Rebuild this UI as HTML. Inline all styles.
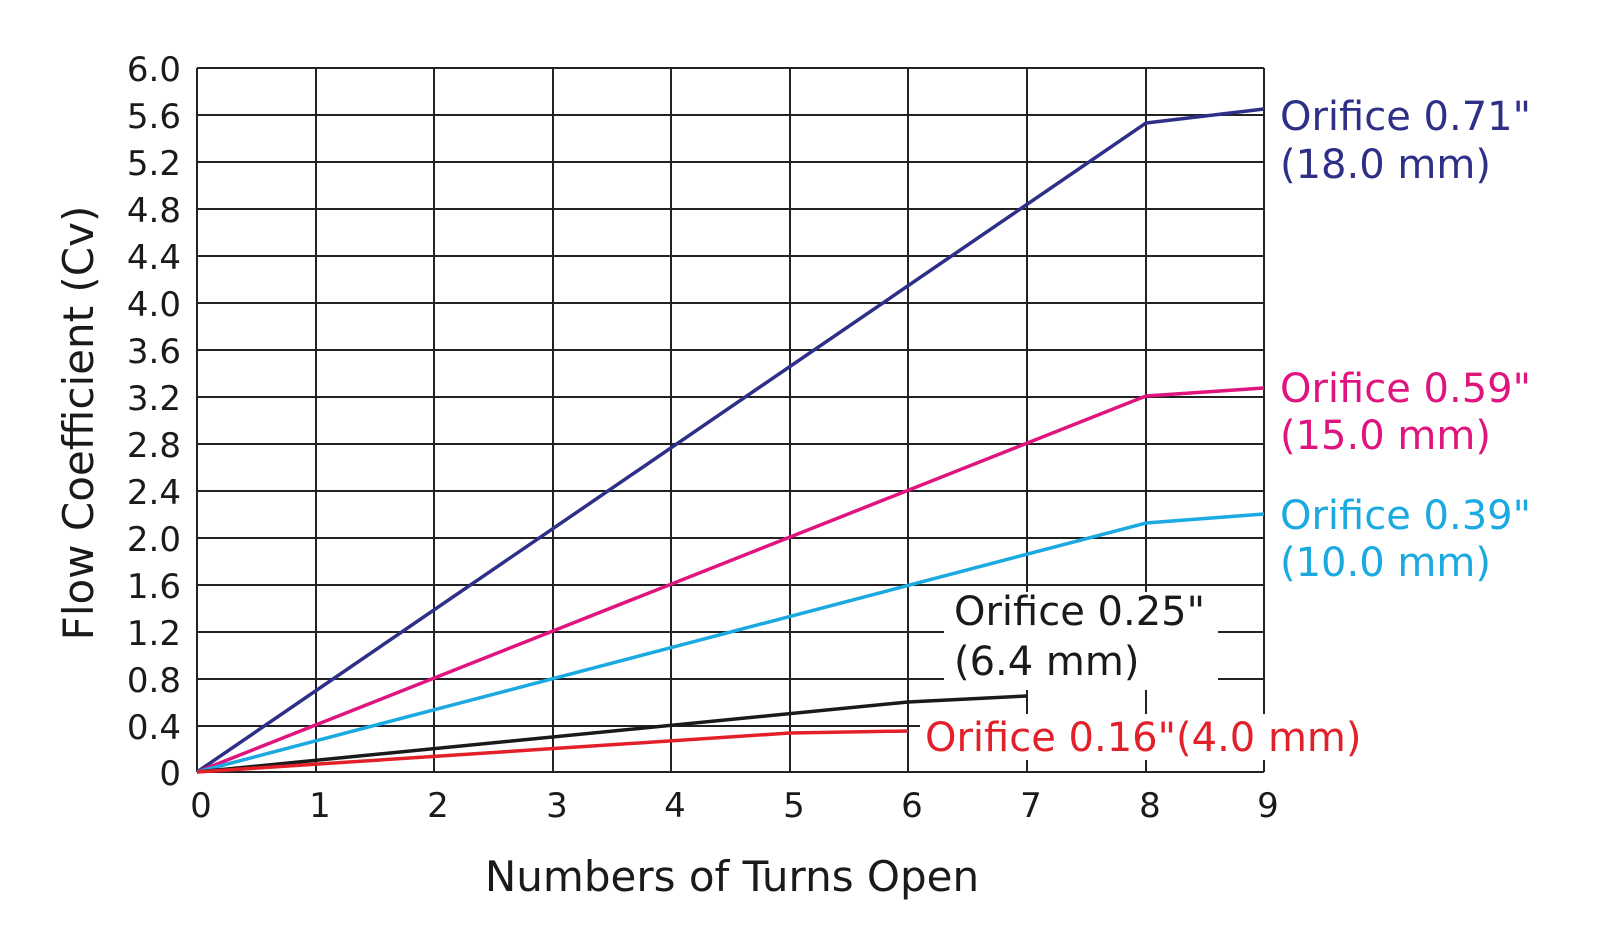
<!DOCTYPE html>
<html><head><meta charset="utf-8"><style>html,body{margin:0;padding:0;background:#fff}</style></head>
<body>
<svg width="1600" height="938" xmlns="http://www.w3.org/2000/svg" font-family="'DejaVu Sans', 'Liberation Sans', sans-serif">
<rect width="1600" height="938" fill="#fff"/>
<g stroke="#222" stroke-width="2">
<line x1="197" y1="68" x2="1264" y2="68"/><line x1="197" y1="115" x2="1264" y2="115"/><line x1="197" y1="162" x2="1264" y2="162"/><line x1="197" y1="209" x2="1264" y2="209"/><line x1="197" y1="256" x2="1264" y2="256"/><line x1="197" y1="303" x2="1264" y2="303"/><line x1="197" y1="350" x2="1264" y2="350"/><line x1="197" y1="397" x2="1264" y2="397"/><line x1="197" y1="444" x2="1264" y2="444"/><line x1="197" y1="491" x2="1264" y2="491"/><line x1="197" y1="538" x2="1264" y2="538"/><line x1="197" y1="585" x2="1264" y2="585"/><line x1="197" y1="632" x2="1264" y2="632"/><line x1="197" y1="679" x2="1264" y2="679"/><line x1="197" y1="726" x2="1264" y2="726"/><line x1="197" y1="772" x2="1264" y2="772"/>
<line x1="197" y1="68" x2="197" y2="772"/><line x1="316" y1="68" x2="316" y2="772"/><line x1="434" y1="68" x2="434" y2="772"/><line x1="553" y1="68" x2="553" y2="772"/><line x1="671" y1="68" x2="671" y2="772"/><line x1="790" y1="68" x2="790" y2="772"/><line x1="908" y1="68" x2="908" y2="772"/><line x1="1027" y1="68" x2="1027" y2="772"/><line x1="1146" y1="68" x2="1146" y2="772"/><line x1="1264" y1="68" x2="1264" y2="772"/>
</g>
<rect x="944" y="592" width="274" height="98" fill="#fff"/>
<rect x="920" y="714" width="470" height="46" fill="#fff"/>
<rect x="1270" y="80" width="330" height="600" fill="#fff"/>
<g fill="none" stroke-width="3.5" stroke-linejoin="round">
<polyline stroke="#2e3088" points="197,772 1146,123 1264,109"/>
<polyline stroke="#e0147f" points="197,772 1146,396 1264,388"/>
<polyline stroke="#1aa9e0" points="197,772 1146,523 1264,514"/>
<polyline stroke="#1a1a1a" points="197,772 908,702 1027,696"/>
<polyline stroke="#e2202a" points="197,772 790,733 908,731"/>
</g>
<g font-size="34" fill="#1a1a1a" text-anchor="end">
<text x="181" y="81">6.0</text><text x="181" y="128">5.6</text><text x="181" y="175">5.2</text><text x="181" y="222">4.8</text><text x="181" y="269">4.4</text><text x="181" y="316">4.0</text><text x="181" y="363">3.6</text><text x="181" y="410">3.2</text><text x="181" y="457">2.8</text><text x="181" y="504">2.4</text><text x="181" y="551">2.0</text><text x="181" y="598">1.6</text><text x="181" y="645">1.2</text><text x="181" y="692">0.8</text><text x="181" y="739">0.4</text><text x="181" y="785">0</text>
</g>
<g font-size="34" fill="#1a1a1a" text-anchor="middle">
<text x="201" y="817">0</text><text x="320" y="817">1</text><text x="438" y="817">2</text><text x="557" y="817">3</text><text x="675" y="817">4</text><text x="794" y="817">5</text><text x="912" y="817">6</text><text x="1031" y="817">7</text><text x="1150" y="817">8</text><text x="1268" y="817">9</text>
</g>
<text x="732" y="891" font-size="42" fill="#1a1a1a" text-anchor="middle">Numbers of Turns Open</text>
<text transform="translate(93,423) rotate(-90)" font-size="42" fill="#1a1a1a" text-anchor="middle">Flow Coefficient (Cv)</text>
<g font-size="40">
<text x="1280" y="130" fill="#2e3088">Orifice 0.71"</text><text x="1280" y="178" fill="#2e3088">(18.0 mm)</text>
<text x="1280" y="402" fill="#e0147f">Orifice 0.59"</text><text x="1280" y="449" fill="#e0147f">(15.0 mm)</text>
<text x="1280" y="529" fill="#1aa9e0">Orifice 0.39"</text><text x="1280" y="576" fill="#1aa9e0">(10.0 mm)</text>
<text x="954" y="625" fill="#1a1a1a">Orifice 0.25"</text><text x="954" y="675" fill="#1a1a1a">(6.4 mm)</text>
<text x="925" y="751" fill="#e2202a">Orifice 0.16"(4.0 mm)</text>
</g>
</svg>
</body></html>
